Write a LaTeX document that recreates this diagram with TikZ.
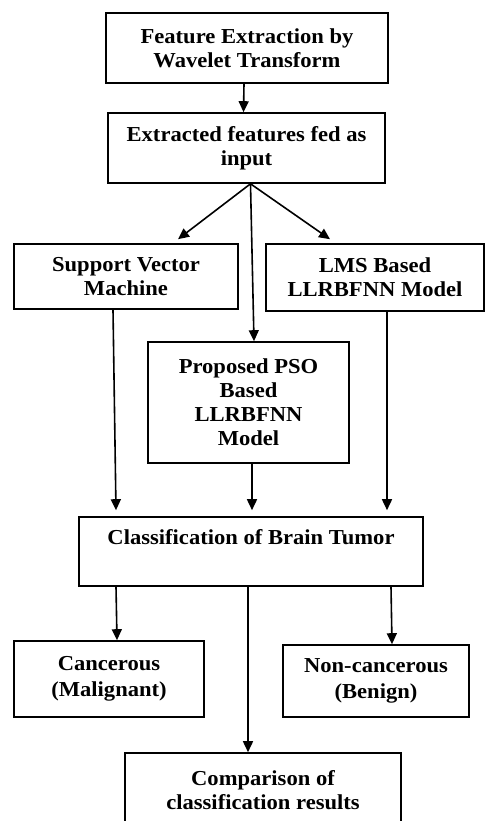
\documentclass[tikz,border=0pt]{standalone}
\usepackage{fontspec}
\setmainfont{Liberation Serif}[FakeStretch=1.06]
\usetikzlibrary{arrows.meta,calc}
\begin{document}
\begin{tikzpicture}[x=1pt,y=-1pt,
  box/.style={draw, line width=1.6pt, inner sep=0pt, align=center,
    font=\bfseries\fontsize{21.3}{24}\selectfont},
  txt/.style={inner sep=0pt, font=\bfseries\fontsize{21.3}{24}\selectfont},
  arr/.style={line width=1.6pt, -{Triangle[length=11pt,width=10pt]}}]
\useasboundingbox (0,0) rectangle (485,821);
\node[box, minimum width=282pt, minimum height=70pt] (fe) at (247,48) {Feature Extraction by\\Wavelet Transform};
\node[box, minimum width=277pt, minimum height=70pt] (ext) at (246.5,148) {Extracted features fed as\\input};
\node[box, minimum width=224pt, minimum height=65pt] (svm) at (126,276.5) {Support Vector\\Machine};
\node[box, minimum width=218pt, minimum height=67pt] (lms) at (375,277.5) {LMS Based\\LLRBFNN Model};
\node[box, minimum width=201pt, minimum height=121pt] (pso) at (248.5,402.5) {Proposed PSO\\Based\\LLRBFNN\\Model};
\node[box, minimum width=344pt, minimum height=69pt] (cls) at (251,551.5) {};
\node[txt, anchor=base] (clst) at (251,544) {Classification of Brain Tumor};
\node[box, minimum width=190pt, minimum height=76pt] (canc) at (109,679) {Cancerous\\[2pt](Malignant)};
\node[box, minimum width=186pt, minimum height=72pt] (nonc) at (376,681) {Non-cancerous\\[2pt](Benign)};
\node[box, minimum width=276pt, minimum height=75pt] (comp) at (263,790.5) {Comparison of\\classification results};
% arrows
\draw[arr] ([xshift=-3pt]fe.south) -- ([xshift=-3pt]ext.north);
\draw[arr] ([xshift=4pt]ext.south) -- ($(svm.north)+(52,-4)$);
\draw[arr] ([xshift=4pt]ext.south) -- ([xshift=5.5pt]pso.north);
\draw[arr] ([xshift=4pt]ext.south) -- ($(lms.north)+(-45,-4)$);
\draw[arr] ([xshift=-13pt]svm.south) -- ($(cls.north)+(-135,-6)$);
\draw[arr] ([xshift=3.5pt]pso.south) -- ($(cls.north)+(1,-6)$);
\draw[arr] ([xshift=12pt]lms.south) -- ($(cls.north)+(136,-6)$);
\draw[arr] ($(cls.south)+(-135,0)$) -- ([xshift=8pt]canc.north);
\draw[arr] ($(cls.south)+(-3,0)$) -- ([xshift=-15pt]comp.north);
\draw[arr] ($(cls.south)+(140,0)$) -- ([xshift=16pt]nonc.north);
\end{tikzpicture}
\end{document}
